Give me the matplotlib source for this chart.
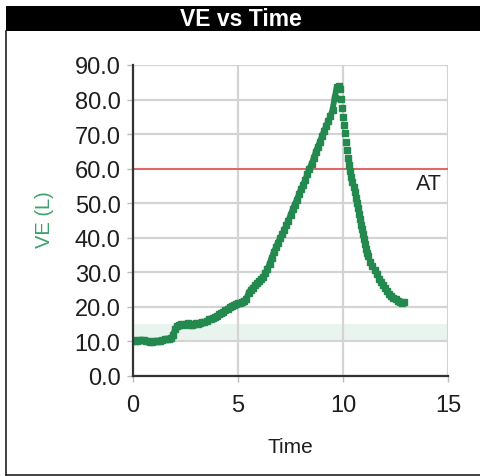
import matplotlib
matplotlib.use("Agg")
import matplotlib.pyplot as plt
from matplotlib.patches import Rectangle
from matplotlib.lines import Line2D

plt.rcParams['font.family'] = ['Liberation Sans', 'DejaVu Sans']

# ---- data ----
time_up = [0.0, 0.1, 0.2, 0.3, 0.4, 0.5, 0.6, 0.7, 0.8, 0.9,
           1.0, 1.1, 1.2, 1.3, 1.4, 1.5, 1.6, 1.7, 1.8, 1.9,
           2.0, 2.1, 2.2, 2.3, 2.4, 2.5, 2.6, 2.7, 2.8, 2.9,
           3.0, 3.1, 3.2, 3.3, 3.4, 3.5, 3.6, 3.7, 3.8, 3.9,
           4.0, 4.1, 4.2, 4.3, 4.4, 4.5, 4.6, 4.7, 4.8, 4.9,
           5.0, 5.1, 5.2, 5.3, 5.4, 5.5, 5.6, 5.7, 5.8, 5.9,
           6.0, 6.1, 6.2, 6.3, 6.4, 6.5, 6.6, 6.7, 6.8, 6.9,
           7.0, 7.1, 7.2, 7.3, 7.4, 7.5, 7.6, 7.7, 7.8, 7.9,
           8.0, 8.1, 8.2, 8.3, 8.4, 8.5, 8.6, 8.7, 8.8, 8.9,
           9.0, 9.1, 9.2, 9.3, 9.4, 9.5, 9.6, 9.7, 9.8]
ve_up = [10.4, 10.2, 10.0, 10.3, 10.5, 10.3, 10.0, 10.1, 9.9, 9.8,
         10.0, 10.1, 10.0, 10.2, 10.4, 10.6, 10.8, 10.6, 11.0, 11.8,
         13.5, 14.6, 14.9, 15.1, 14.8, 15.0, 15.2, 14.9, 14.8, 15.0,
         15.2, 15.0, 15.3, 15.6, 15.5, 16.0, 16.4, 16.6, 16.8, 17.2,
         17.4, 17.8, 18.2, 18.6, 19.0, 19.5, 19.9, 20.2, 20.5, 20.7,
         21.0, 21.2, 21.4, 21.8, 22.4, 24.0, 25.0, 25.6, 26.2, 26.8,
         27.4, 28.0, 28.6, 29.8, 31.0, 32.5, 34.2, 35.8, 37.2, 38.6,
         39.8, 41.0, 42.2, 43.6, 45.0, 46.6, 48.2, 49.6, 51.0, 52.6,
         54.2, 55.2, 56.8, 58.4, 60.0, 61.4, 63.0, 64.8, 66.4, 67.8,
         69.4, 71.0, 72.4, 73.8, 75.2, 77.0, 80.5, 83.6, 83.8]
time_down = [9.85, 9.90, 9.95, 10.00, 10.05, 10.10, 10.15, 10.20, 10.25, 10.30,
             10.35, 10.40, 10.45, 10.50, 10.55, 10.60, 10.65, 10.70, 10.75, 10.80,
             10.85, 10.90, 10.95, 11.00, 11.05, 11.10, 11.15, 11.20, 11.30, 11.40,
             11.50, 11.60, 11.70, 11.80, 11.90, 12.00, 12.10, 12.20, 12.30, 12.40,
             12.50, 12.60, 12.70, 12.80, 12.90]
ve_down = [83.0, 80.2, 77.5, 75.0, 72.6, 70.2, 67.8, 65.4, 63.0, 61.0,
           59.2, 57.6, 56.2, 54.8, 53.2, 51.6, 50.2, 48.6, 47.0, 45.4,
           43.8, 42.4, 41.0, 39.6, 38.2, 36.8, 35.6, 34.6, 33.0, 31.8,
           30.6, 29.4, 28.2, 27.2, 26.2, 25.4, 24.6, 23.8, 23.2, 22.6,
           22.2, 21.8, 21.4, 21.2, 21.4]
at_value = 60.0
band_low, band_high = 10.0, 15.0
x_ticks = [0, 5, 10, 15]
y_ticks = [0, 10, 20, 30, 40, 50, 60, 70, 80, 90]

W, H = 481, 477
fig = plt.figure(figsize=(W / 100, H / 100), dpi=100)
fig.patch.set_facecolor('white')

# frame lines and title bar
fig.add_artist(Line2D([6 / W, 6 / W], [1 - 476 / H, 1 - 32 / H], color='#222222', lw=1.2))
fig.add_artist(Line2D([6 / W, 1.0], [1 - 475.5 / H, 1 - 475.5 / H], color='#222222', lw=1.2))
fig.add_artist(Rectangle((6 / W, 1 - 32 / H), 1 - 6 / W, 25 / H, transform=fig.transFigure,
                         facecolor='black', edgecolor='none'))
fig.text(241 / W, 1 - 20 / H, 'VE vs Time', color='white', fontsize=16.5, fontweight='bold',
         ha='center', va='center')

ax = fig.add_axes([133 / W, 1 - 377 / H, (448 - 133) / W, (377 - 66) / H])
ax.set_xlim(0, 15)
ax.set_ylim(0, 90)
ax.axhspan(band_low, band_high, color='#eaf4ee', zorder=0.5, lw=0)
ax.set_xticks(x_ticks)
ax.set_yticks(y_ticks)
ax.set_yticklabels([f'{v:.1f}' for v in y_ticks])
ax.grid(True, color='#d4d4d4', lw=1.6, zorder=1)
ax.set_axisbelow(True)
for s in ['top', 'right']:
    ax.spines[s].set_visible(False)
for s in ['left', 'bottom']:
    ax.spines[s].set_color('#333333')
    ax.spines[s].set_linewidth(1.6)
    ax.spines[s].set_zorder(5)
ax.tick_params(axis='both', colors='#bbbbbb', length=4, width=1, labelcolor='#1e1e1e',
               labelsize=17)
ax.tick_params(axis='x', pad=9)
ax.tick_params(axis='y', pad=5)

ax.axhline(at_value, color='#e06666', lw=1.4, zorder=3)
ax.text(14.7, at_value - 1.3, 'AT', color='#1e1e1e', fontsize=15.5, ha='right', va='top')

green = '#23894f'
ax.plot(time_up, ve_up, color=green, lw=4.2, marker='s', ms=4.0, zorder=4,
        solid_capstyle='butt')
ax.plot(time_down, ve_down, color=green, lw=0, marker='s', ms=4.0, zorder=4)

ax.set_xlabel('Time', fontsize=15, color='#1e1e1e', labelpad=15)
fig.text(45 / W, 1 - 220 / H, 'VE (L)', color='#3aa36a', fontsize=14.5, rotation=90,
         ha='center', va='center')

fig.savefig('out.png', dpi=100)
